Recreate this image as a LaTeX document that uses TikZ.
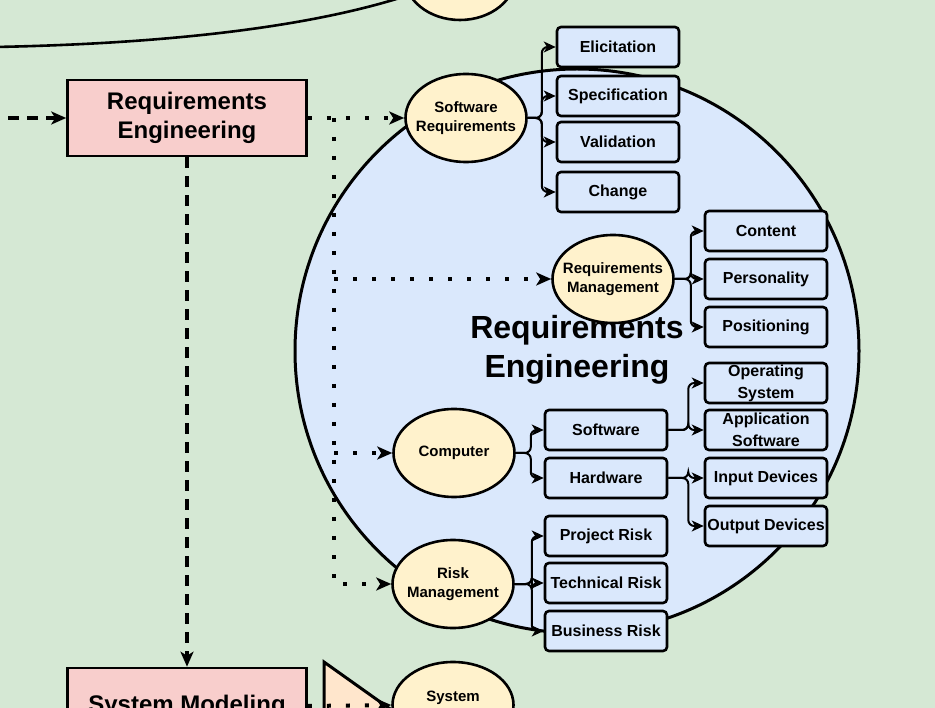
\documentclass[tikz,border=0pt]{standalone}
\usepackage{fontspec}
\setmainfont{Liberation Sans}
\usetikzlibrary{arrows.meta,shapes.geometric,calc}
\definecolor{bggreen}{HTML}{D5E8D4}
\definecolor{boxpink}{HTML}{F8CECC}
\definecolor{boxblue}{HTML}{DAE8FC}
\definecolor{ovalyellow}{HTML}{FFF2CC}
\definecolor{shapepeach}{HTML}{FFE6CC}

\begin{document}
\begin{tikzpicture}[x=1pt,y=-1pt]
        \tikzset{
          stage/.style={draw, line width=2.6pt, fill=boxpink, minimum width=239, minimum height=76,
            align=center, font=\fontsize{24}{29}\selectfont\bfseries},
          topic/.style={ellipse, draw, line width=2.6pt, fill=ovalyellow, minimum width=121,
            minimum height=88, inner xsep=-16pt, inner ysep=-6pt, align=center,
            font=\fontsize{15}{19}\selectfont\bfseries},
          item/.style={draw, line width=2.6pt, rounded corners=4pt, fill=boxblue, minimum width=122,
            minimum height=40, inner sep=1pt, align=center, font=\fontsize{16}{22}\selectfont\bfseries},
          branch/.style={line width=2pt, rounded corners=6pt, -{Stealth[length=12pt, width=11pt, inset=3.5pt]}},
          dotline/.style={line width=4pt, dash pattern=on 4pt off 15pt, -{Stealth[length=15pt, width=13pt, inset=4pt]}},
          dashline/.style={line width=3.5pt, dash pattern=on 11pt off 8pt, -{Stealth[length=15pt, width=13pt, inset=4pt]}}
        }
        \useasboundingbox (0,0) rectangle (935,708);
        \clip (0,0) rectangle (935,708);
        \fill[bggreen] (0,0) rectangle (935,708);

        % cut-off shapes at the top
        \node[topic, minimum width=112, minimum height=90] (topoval) at (460,-25) {};
        \coordinate (arcend) at (406,-4);
        \draw[line width=2.6pt] (-5,47) .. controls (150,44) and (300,30) .. (arcend);

        % big circle and its title
        \draw[line width=3pt, fill=boxblue] (577,351) circle (282);
        \node[align=center, font=\fontsize{32}{39}\selectfont\bfseries] (title) at (577,350) {Requirements\\Engineering};

        % left column
        \node[stage] (reqeng) at (187,118) {Requirements\\Engineering};
        \node[stage] (sysmod) at (187,706) {System Modeling};
        \coordinate (inlet) at (8,118);
        \draw[dashline] (inlet) -- (reqeng.west);
        \draw[dashline] (reqeng.south) -- (sysmod.north);

        % peach shape and system oval
        \draw[line width=3pt, fill=shapepeach] (324,662) -- (400,716) -- (324,716) -- cycle;
        \node[topic, minimum height=86] (system) at (453,705) {System\\[-2pt]\phantom{M}};
        \draw[dotline] (sysmod.east |- 0,706) -- (system.west);

        % topics
        \node[topic] (swreq) at (466,118) {Software\\Requirements};
        \node[topic] (reqmgmt) at (613,279) {Requirements\\Management};
        \node[topic] (computer) at (454,453) {Computer};
        \node[topic] (riskmgmt) at (453,584) {Risk\\Management};

        % dotted feeders
        \coordinate (trunk) at (334,118);
        \draw[dotline] (reqeng.east) -- (swreq.west);
        \draw[dotline] (trunk) |- (riskmgmt.west);
        \draw[dotline] (trunk |- reqmgmt.west) -- (reqmgmt.west);
        \draw[dotline] (trunk |- computer.west) -- (computer.west);

        % software requirements
        \node[item] (elic) at (618,47) {Elicitation};
        \node[item] (spec) at (618,96) {Specification};
        \node[item] (valid) at (618,142) {Validation};
        \node[item] (change) at (618,192) {Change};
        \foreach \t in {elic,spec,valid,change}
          \draw[branch] (swreq.east) -- ++(14,0) |- (\t.west);

        % requirements management
        \node[item] (content) at (766,231) {Content};
        \node[item] (person) at (766,279) {Personality};
        \node[item] (posit) at (766,327) {Positioning};
        \foreach \t in {content,person,posit}
          \draw[branch] (reqmgmt.east) -- ++(16,0) |- (\t.west);

        % computer
        \node[item] (sw) at (606,430) {Software};
        \node[item] (hw) at (606,478) {Hardware};
        \foreach \t in {sw,hw}
          \draw[branch] (computer.east) -- ++(15,0) |- (\t.west);
        \node[item] (opsys) at (766,383) {Operating\\System};
        \node[item] (appsw) at (766,430) {Application\\Software};
        \node[item] (input) at (766,478) {Input Devices};
        \node[item] (output) at (766,526) {Output Devices};
        \foreach \t in {opsys,appsw}
          \draw[branch] (sw.east) -- ++(20,0) |- (\t.west);
        \foreach \t in {input,output}
          \draw[branch] (hw.east) -- ++(20,0) |- (\t.west);

        % risk management
        \node[item] (projrisk) at (606,536) {Project Risk};
        \node[item] (techrisk) at (606,583) {Technical Risk};
        \node[item] (busrisk) at (606,631) {Business Risk};
        \foreach \t in {projrisk,techrisk,busrisk}
          \draw[branch] (riskmgmt.east) -- ++(17,0) |- (\t.west);
\end{tikzpicture}
\end{document}
